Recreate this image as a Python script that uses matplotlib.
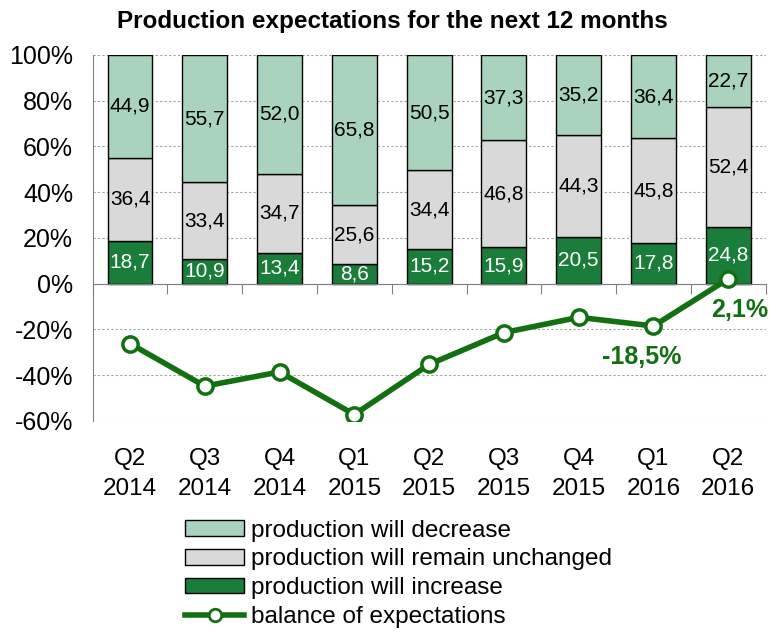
import matplotlib.pyplot as plt
from matplotlib.patches import Patch
from matplotlib.lines import Line2D
from matplotlib.transforms import blended_transform_factory

plt.rcParams['font.family'] = ['Liberation Sans', 'DejaVu Sans']

# data
quarters = ['Q2\n2014', 'Q3\n2014', 'Q4\n2014', 'Q1\n2015', 'Q2\n2015',
            'Q3\n2015', 'Q4\n2015', 'Q1\n2016', 'Q2\n2016']
increase = [18.7, 10.9, 13.4, 8.6, 15.2, 15.9, 20.5, 17.8, 24.8]
unchanged = [36.4, 33.4, 34.7, 25.6, 34.4, 46.8, 44.3, 45.8, 52.4]
decrease = [44.9, 55.7, 52.0, 65.8, 50.5, 37.3, 35.2, 36.4, 22.7]
balance = [-26.2, -44.8, -38.6, -57.2, -35.3, -21.4, -14.7, -18.5, 2.1]

c_dec = '#a9d3bd'
c_unc = '#d9d9d9'
c_inc = '#1b7d3a'
c_line = '#127012'

fig = plt.figure(figsize=(7.7, 6.32), dpi=100)
ax = fig.add_axes([0.1203, 0.334, 0.874, 0.579])

x = range(len(quarters))
w = 0.6
b1 = ax.bar(x, increase, w, color=c_inc, edgecolor='black', linewidth=1, zorder=2)
b2 = ax.bar(x, unchanged, w, bottom=increase, color=c_unc, edgecolor='black', linewidth=1, zorder=2)
bottom3 = [a + b for a, b in zip(increase, unchanged)]
b3 = ax.bar(x, decrease, w, bottom=bottom3, color=c_dec, edgecolor='black', linewidth=1, zorder=2)

def add_labels(rects, vals, bottoms, color):
    for r, v, b in zip(rects, vals, bottoms):
        ax.text(r.get_x() + r.get_width() / 2, b + v / 2,
                '{:.1f}'.format(v).replace('.', ','),
                ha='center', va='center', fontsize=15, color=color, zorder=4)

add_labels(b1, increase, [0] * len(increase), 'white')
add_labels(b2, unchanged, increase, 'black')
add_labels(b3, decrease, bottom3, 'black')

ax.plot(x, balance, color=c_line, linewidth=4, marker='o', markersize=11,
        markerfacecolor='white', markeredgecolor=c_line, markeredgewidth=2.5, zorder=5)

# annotations for the last two points
ax.text(6.84, -32, '-18,5%', color=c_line, fontsize=18, fontweight='bold',
        ha='center', va='center', zorder=6)
ax.text(8.16, -11.5, '2,1%', color=c_line, fontsize=18, fontweight='bold',
        ha='center', va='center', zorder=6)

ax.set_xlim(-0.5, len(quarters) - 0.5)
ax.set_ylim(-60, 100)
ax.set_yticks(range(-60, 101, 20))
ax.set_yticklabels(['{}%'.format(v) for v in range(-60, 101, 20)], fontsize=18)
ax.yaxis.grid(True, linestyle=(0, (2, 2)), color='#a0a0a0', linewidth=0.8, zorder=0)
ax.set_axisbelow(True)

ax.spines['top'].set_visible(False)
ax.spines['right'].set_visible(False)
ax.spines['left'].set_color('#808080')
ax.spines['bottom'].set_position(('data', 0))
ax.spines['bottom'].set_color('#808080')
ax.spines['bottom'].set_zorder(3)
ax.tick_params(axis='y', length=0, pad=14)

ax.set_xticks([i - 0.5 for i in range(len(quarters) + 1)])
ax.set_xticklabels([])
ax.tick_params(axis='x', length=7, direction='out', color='#808080')

trans = blended_transform_factory(ax.transData, ax.transAxes)
for i, q in enumerate(quarters):
    ax.text(i, -0.075, q, transform=trans, ha='center', va='top', fontsize=17.5, linespacing=1.45)

fig.text(0.509, 0.966, 'Production expectations for the next 12 months', fontsize=17.5,
         fontweight='bold', ha='center', va='center')

handles = [Patch(facecolor=c_dec, edgecolor='black'),
           Patch(facecolor=c_unc, edgecolor='black'),
           Patch(facecolor=c_inc, edgecolor='black'),
           Line2D([0], [0], color=c_line, linewidth=4, marker='o', markersize=9,
                  markerfacecolor='white', markeredgecolor=c_line, markeredgewidth=2)]
labels = ['production will decrease', 'production will remain unchanged',
          'production will increase', 'balance of expectations']
fig.legend(handles, labels, loc='upper left', bbox_to_anchor=(0.225, 0.197),
           frameon=False, fontsize=17.5, handlelength=2.4, handleheight=0.6,
           labelspacing=0.28, handletextpad=0.3, borderpad=0)

fig.savefig('out.png', dpi=100)
